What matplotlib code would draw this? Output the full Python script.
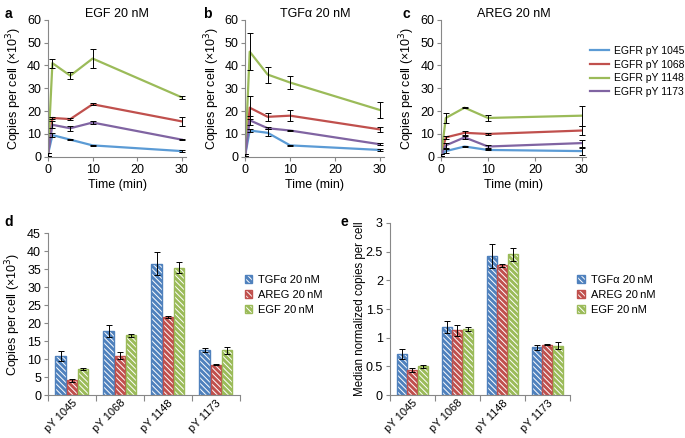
import numpy as np
import matplotlib
matplotlib.use("Agg")
from matplotlib import pyplot as plt
from matplotlib.patches import Patch
from matplotlib.lines import Line2D
from matplotlib.transforms import ScaledTranslation

plt.rcParams['font.family'] = ['Liberation Sans', 'DejaVu Sans']
plt.rcParams['hatch.linewidth'] = 0.7

# time courses (copies per cell x10^3)
times = [0, 1, 5, 10, 30]
sites = ['EGFR pY 1045', 'EGFR pY 1068', 'EGFR pY 1148', 'EGFR pY 1173']

egf_mean = [
    [1.0, 9.5, 7.5, 5.0, 2.5],
    [1.0, 17.0, 16.5, 23.0, 15.5],
    [1.0, 41.0, 35.5, 43.0, 26.0],
    [1.0, 14.0, 12.5, 15.0, 7.5],
]
egf_err = [
    [0.5, 1.0, 0.3, 0.2, 0.5],
    [0.5, 0.5, 0.3, 0.5, 2.0],
    [0.5, 2.0, 1.5, 4.0, 0.7],
    [0.5, 1.5, 1.0, 0.5, 0.3],
]
tgf_mean = [
    [0.8, 11.5, 10.5, 5.0, 3.0],
    [0.8, 21.5, 17.5, 18.0, 12.0],
    [0.8, 46.0, 36.0, 32.5, 20.5],
    [0.8, 16.0, 12.5, 11.5, 5.5],
]
tgf_err = [
    [0.5, 0.5, 1.5, 0.2, 0.5],
    [0.5, 5.0, 1.8, 2.5, 1.2],
    [0.5, 8.0, 3.5, 3.0, 3.5],
    [0.5, 2.0, 0.5, 0.3, 0.5],
]
areg_mean = [
    [0.8, 2.5, 4.5, 3.0, 2.5],
    [0.8, 8.5, 10.5, 10.0, 11.5],
    [0.8, 17.0, 21.5, 17.0, 18.0],
    [0.8, 5.0, 8.5, 4.5, 6.0],
]
areg_err = [
    [0.5, 0.8, 0.3, 0.2, 1.5],
    [0.5, 0.7, 1.0, 0.5, 2.0],
    [0.5, 2.2, 0.3, 1.5, 4.3],
    [0.5, 1.0, 0.5, 0.5, 1.5],
]

# bar charts
bar_cats = ['pY 1045', 'pY 1068', 'pY 1148', 'pY 1173']
ligands = ['TGF\u03b1 20\u2009nM', 'AREG 20\u2009nM', 'EGF 20\u2009nM']
copies = [
    [10.8, 17.8, 36.5, 12.5],
    [4.1, 10.9, 21.7, 8.4],
    [7.2, 16.6, 35.4, 12.4],
]
copies_err = [
    [1.3, 1.7, 3.2, 0.6],
    [0.4, 1.0, 0.3, 0.1],
    [0.3, 0.4, 1.6, 0.9],
]
norm = [
    [0.72, 1.19, 2.43, 0.83],
    [0.44, 1.13, 2.26, 0.88],
    [0.50, 1.15, 2.45, 0.86],
]
norm_err = [
    [0.09, 0.10, 0.21, 0.04],
    [0.04, 0.10, 0.03, 0.005],
    [0.02, 0.04, 0.11, 0.06],
]

line_colors = ['#5b9bd5', '#c0504d', '#9bbb59', '#8064a2']
bar_colors = ['#4f81bd', '#c0504d', '#9bbb59']
spine_c = '#888888'

fig = plt.figure(figsize=(6.85, 4.38), dpi=100)


def style(ax):
    for s in ['top', 'right']:
        ax.spines[s].set_visible(False)
    for s in ['left', 'bottom']:
        ax.spines[s].set_color(spine_c)
        ax.spines[s].set_linewidth(0.8)
    ax.tick_params(direction='out', length=3, width=0.8, color=spine_c,
                   labelsize=9, pad=2)


def line_panel(rect, means, errs, title):
    ax = fig.add_axes(rect)
    style(ax)
    for m, e, c in zip(means, errs, line_colors):
        ax.plot(times, m, color=c, lw=1.6, zorder=2)
        ax.errorbar(times, m, yerr=e, fmt='none', ecolor='black',
                    elinewidth=0.7, capsize=2.5, capthick=0.7, zorder=3)
    ax.set_xlim(0, 31)
    ax.set_ylim(0, 60)
    ax.set_xticks([0, 10, 20, 30])
    ax.set_yticks(range(0, 61, 10))
    ax.set_xlabel('Time (min)', fontsize=9, labelpad=2)
    ax.set_ylabel('Copies per cell (\u00d710$^3$)', fontsize=9, labelpad=2)
    ax.set_title(title, fontsize=9, pad=2)
    return ax


line_panel([0.070, 0.642, 0.202, 0.313], egf_mean, egf_err, 'EGF 20 nM')
line_panel([0.358, 0.642, 0.203, 0.313], tgf_mean, tgf_err, 'TGF\u03b1 20 nM')
line_panel([0.644, 0.642, 0.212, 0.313], areg_mean, areg_err, 'AREG 20 nM')

handles = [Line2D([], [], color=c, lw=1.6) for c in line_colors]
fig.legend(handles, sites, loc='upper left', bbox_to_anchor=(0.861, 0.895),
           frameon=False, fontsize=7.5, handlelength=1.8, handletextpad=0.5,
           labelspacing=0.35, borderaxespad=0, borderpad=0)


def bar_panel(rect, vals, errs, ylim, yticks, ylabel, yfmt, legend_pos,
              lpad, lsize):
    ax = fig.add_axes(rect)
    style(ax)
    x = np.arange(len(bar_cats))
    w = 0.22
    hs = []
    for i, (v, e, c) in enumerate(zip(vals, errs, bar_colors)):
        pos = x + (i - 1) * 0.235
        ax.bar(pos, v, w, color=c, edgecolor='white', hatch='\\\\\\\\\\\\',
               linewidth=0, zorder=2)
        ax.bar(pos, v, w, fill=False, edgecolor=c, linewidth=1.0, zorder=3)
        ax.errorbar(pos, v, yerr=e, fmt='none', ecolor='black',
                    elinewidth=0.7, capsize=2.5, capthick=0.7, zorder=4)
        hs.append((Patch(facecolor=c, edgecolor='white', hatch='\\\\\\\\\\\\', lw=0),
                   Patch(fill=False, edgecolor=c, lw=1.0)))
    ax.set_xlim(-0.5, len(bar_cats) - 0.5)
    ax.set_ylim(*ylim)
    ax.set_yticks(yticks)
    ax.set_yticklabels([yfmt(t) for t in yticks])
    ax.set_xticks(x)
    ax.set_xticklabels(bar_cats, rotation=45, ha='right',
                       rotation_mode='anchor', fontsize=8)
    shift = ScaledTranslation(0.10, 0, fig.dpi_scale_trans)
    for lab in ax.get_xticklabels():
        lab.set_transform(lab.get_transform() + shift)
    ax.tick_params(axis='x', length=0, pad=2)
    ax.set_xticks(np.arange(-0.5, len(bar_cats)), minor=True)
    ax.tick_params(axis='x', which='minor', direction='out', length=4,
                   width=0.8, color=spine_c)
    ax.set_ylabel(ylabel, fontsize=lsize, labelpad=lpad)
    fig.legend(hs, ligands, loc='upper left', bbox_to_anchor=legend_pos,
               frameon=False, fontsize=8, handlelength=0.7, handleheight=0.7,
               handletextpad=0.5, labelspacing=0.45, borderaxespad=0,
               borderpad=0)
    return ax


bar_panel([0.070, 0.098, 0.280, 0.370], copies, copies_err, (0, 45),
          list(range(0, 46, 5)), 'Copies per cell (\u00d710$^3$)',
          lambda t: '%d' % t, (0.357, 0.372), 3, 9)
bar_panel([0.569, 0.098, 0.263, 0.393], norm, norm_err, (0, 3),
          [0, 0.5, 1, 1.5, 2, 2.5, 3], 'Median normalized copies per cell',
          lambda t: ('%g' % t), (0.843, 0.372), 0, 8.3)

for lab, xp, yp in [('a', 0.007, 0.985), ('b', 0.296, 0.985), ('c', 0.588, 0.985),
                    ('d', 0.007, 0.51), ('e', 0.497, 0.51)]:
    fig.text(xp, yp, lab, fontsize=10, fontweight='bold', va='top', ha='left')

fig.savefig('out.png', dpi=100)
